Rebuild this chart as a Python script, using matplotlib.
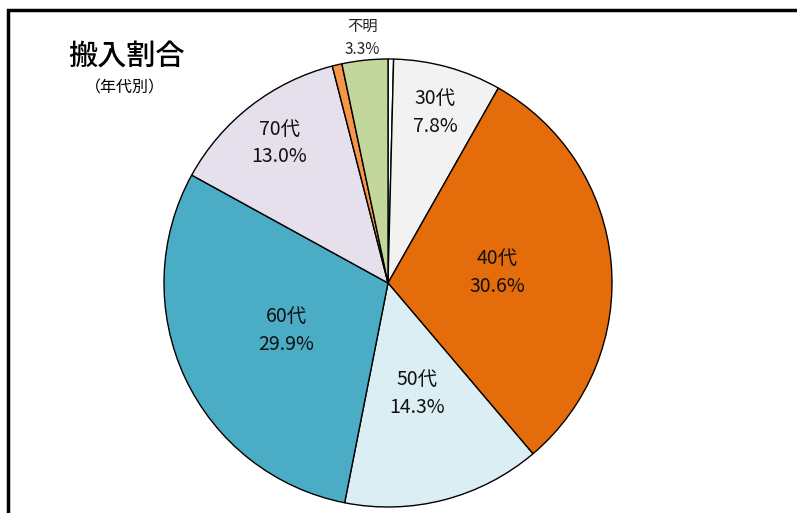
import numpy as np
import matplotlib
matplotlib.use('Agg')
from matplotlib import pyplot as plt
from matplotlib.patches import Rectangle

plt.rcParams['font.family'] = ['Noto Sans CJK JP', 'DejaVu Sans']

# data, clockwise from 12 o'clock
categories = ['20代', '30代', '40代', '50代', '60代', '70代', '80代', '不明']
shares = [0.4, 7.8, 30.6, 14.3, 29.9, 13.0, 0.7, 3.3]
show_label = [False, True, True, True, True, True, False, True]

colors = ['#FFFFFF', '#F2F2F2', '#E46C0A', '#DBEEF4', '#4BACC6',
          '#E5E0EC', '#F79646', '#C3D69B']
label_dist = [0, 0.79, 0.49, 0.51, 0.50, 0.79, 0, 1.10]

W, H = 797, 513
fig = plt.figure(figsize=(W / 100, H / 100), dpi=100)
cx, cy, r = 388, 283, 224
ax = fig.add_axes([(cx - r) / W, (H - cy - r) / H, 2 * r / W, 2 * r / H])

wedges, _ = ax.pie(shares, colors=colors, startangle=90, counterclock=False,
                   radius=1, wedgeprops=dict(edgecolor='black', linewidth=1.0))
for w in wedges:
    w.set_clip_on(False)
ax.set_xlim(-1, 1)
ax.set_ylim(-1, 1)
ax.set_aspect('equal')
ax.axis('off')

cum = np.cumsum([0] + shares)
for i, name in enumerate(categories):
    if not show_label[i]:
        continue
    mid = (cum[i] + cum[i + 1]) / 2 / 100 * 2 * np.pi
    d = label_dist[i]
    x, y = d * np.sin(mid), d * np.cos(mid)
    if name == '不明':
        ax.text(x, y, f'{name}\n{shares[i]:.1f}%', ha='center', va='center',
                fontsize=11, linespacing=1.55, color='#222222')
    else:
        ax.text(x, y, f'{name}\n{shares[i]:.1f}%', ha='center', va='center',
                fontsize=14, linespacing=1.4, color='#111111')

fig.text(126 / W, 1 - 56 / H, '搬入割合', ha='center', va='center',
         fontsize=21, fontweight='medium')
fig.text(125 / W, 1 - 88 / H, '（年代別）', ha='center', va='center', fontsize=11.5)

# outer frame (right and bottom edges run off the image)
fig.add_artist(Rectangle((8 / W, -0.1), 1.2, 1 - 10 / H + 0.1, transform=fig.transFigure,
                         fill=False, edgecolor='black', linewidth=2.5))

fig.savefig('out.png', dpi=100)
